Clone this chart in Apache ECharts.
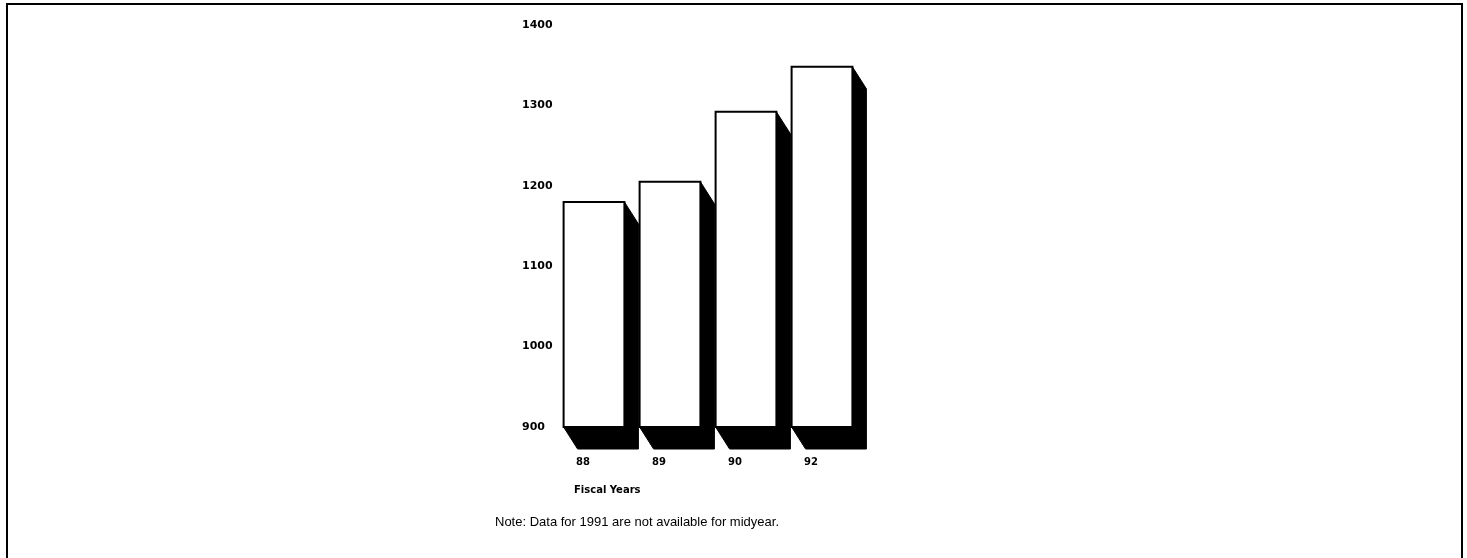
<!DOCTYPE html>
<html>
<head>
<meta charset="utf-8">
<title>Fiscal Years</title>
<script src="https://cdn.jsdelivr.net/npm/echarts@6/dist/echarts.min.js"></script>
<style>
  html, body { margin: 0; padding: 0; background: #fff; }
  #chart { width: 1467px; height: 558px; }
</style>
</head>
<body>
<div id="chart"></div>
<script>
// Fiscal years shown on the category axis
const years = ['88', '89', '90', '92'];
// Values for each fiscal year
const values = [1180, 1205, 1292, 1348];
// Value axis range and step
const yMin = 900;
const yMax = 1400;
const yStep = 100;

const chart = echarts.init(document.getElementById('chart'));

// Depth of the extruded block drawn behind each bar
const DEPTH_X = 14;
const DEPTH_Y = 22;

function renderBlock(params, api) {
  const cat = api.value(0);
  const top = api.coord([cat, api.value(1)]);
  const base = api.coord([cat, yMin]);
  const w = api.size([1, 0])[0] * 0.8;
  const x0 = top[0] - w / 2;
  const x1 = top[0] + w / 2;
  const y0 = top[1];
  const y1 = base[1];
  return {
    type: 'group',
    children: [
      {
        type: 'polygon',
        shape: {
          points: [
            [x0, y0], [x1, y0], [x1 + DEPTH_X, y0 + DEPTH_Y],
            [x1 + DEPTH_X, y1 + DEPTH_Y], [x0 + DEPTH_X, y1 + DEPTH_Y], [x0, y1]
          ]
        },
        style: { fill: '#000', stroke: '#000', lineWidth: 1 }
      },
      {
        type: 'rect',
        shape: { x: x0, y: y0, width: w, height: y1 - y0 },
        style: { fill: '#fff', stroke: '#000', lineWidth: 2 }
      }
    ]
  };
}

chart.setOption({
  backgroundColor: '#fff',
  animation: false,
  grid: { left: 556, top: 25, width: 304, height: 402 },
  xAxis: {
    type: 'category',
    data: years,
    axisLine: { show: false },
    axisTick: { show: false },
    splitLine: { show: false },
    axisLabel: {
      margin: 30,
      padding: [0, 22, 0, 0],
      color: '#000',
      fontFamily: 'DejaVu Sans',
      fontWeight: 'bold',
      fontSize: 10
    }
  },
  yAxis: {
    type: 'value',
    min: yMin,
    max: yMax,
    interval: yStep,
    axisLine: { show: false },
    axisTick: { show: false },
    splitLine: { show: false },
    axisLabel: {
      margin: 34,
      align: 'left',
      formatter: v => String(v),
      color: '#000',
      fontFamily: 'DejaVu Sans',
      fontWeight: 'bold',
      fontSize: 11
    }
  },
  series: [{
    type: 'custom',
    renderItem: renderBlock,
    encode: { x: 0, y: 1 },
    data: years.map((y, i) => [i, values[i]]),
    clip: false
  }],
  graphic: [
    {
      type: 'rect',
      shape: { x: 7, y: 4, width: 1455, height: 600 },
      style: { fill: 'none', stroke: '#000', lineWidth: 2 },
      silent: true
    },
    {
      type: 'text',
      left: 574,
      top: 485,
      style: {
        text: 'Fiscal Years',
        fill: '#000',
        font: 'bold 10px "DejaVu Sans"'
      }
    },
    {
      type: 'text',
      left: 495,
      top: 516,
      style: {
        text: 'Note: Data for 1991 are not available for midyear.',
        fill: '#000',
        font: '13px "Liberation Sans"'
      }
    }
  ]
});
</script>
</body>
</html>
